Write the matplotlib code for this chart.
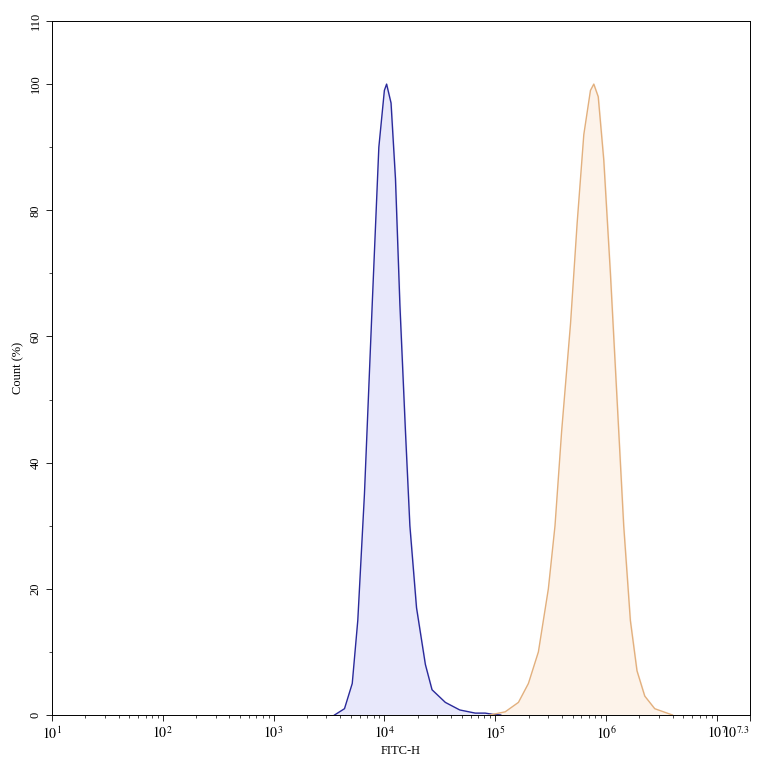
import numpy as np
import matplotlib
matplotlib.use("Agg")
import matplotlib.pyplot as plt

plt.rcParams['font.family'] = ['Liberation Serif', 'DejaVu Serif']
plt.rcParams['mathtext.fontset'] = 'stix'

# histogram outlines (log10 of FITC-H, count %)
blue_log = [3.55, 3.64, 3.71, 3.76, 3.82, 3.89, 3.95, 4.00, 4.02, 4.06, 4.10, 4.14,
            4.19, 4.23, 4.29, 4.37, 4.43, 4.55, 4.68, 4.82, 4.91, 4.98, 5.05]
blue_cnt = [0, 1, 5, 15, 35, 65, 90, 99, 100, 97, 85, 65,
            45, 30, 17, 8, 4, 2, 0.8, 0.3, 0.3, 0.1, 0]
orange_log = [4.95, 5.09, 5.21, 5.30, 5.39, 5.48, 5.54, 5.60, 5.68, 5.74, 5.80, 5.86,
              5.89, 5.93, 5.98, 6.04, 6.10, 6.16, 6.22, 6.28, 6.35, 6.44, 6.60]
orange_cnt = [0, 0.5, 2, 5, 10, 20, 30, 45, 62, 78, 92, 99,
              100, 98, 88, 70, 50, 30, 15, 7, 3, 1, 0]

xtick_exp = [1, 2, 3, 4, 5, 6, 7, 7.3]
xtick_lbl = ['$10^{1}$', '$10^{2}$', '$10^{3}$', '$10^{4}$', '$10^{5}$', '$10^{6}$', '$10^{7}$', '$10^{7.3}$']
yticks = [0, 20, 40, 60, 80, 100, 110]

fig = plt.figure(figsize=(7.64, 7.64), dpi=100)
ax = fig.add_axes([52/764, 49/764, 698/764, 694/764])

bx = 10 ** np.array(blue_log)
ox = 10 ** np.array(orange_log)
ax.fill_between(bx, blue_cnt, color='#e8e8fb')
ax.plot(bx, blue_cnt, color='#2a2a9a', lw=1)
ax.fill_between(ox, orange_cnt, color='#fdf3ea')
ax.plot(ox, orange_cnt, color='#e2b07e', lw=1)

ax.set_xscale('log')
ax.set_xlim(10, 10 ** 7.3)
ax.set_ylim(0, 110)
ax.set_xticks([10 ** e for e in xtick_exp])
ax.set_xticklabels(xtick_lbl, fontsize=10)
ax.set_yticks(yticks)
ax.set_yticklabels([str(v) for v in yticks], rotation=90, va='center', fontsize=9)
ax.yaxis.set_minor_locator(matplotlib.ticker.MultipleLocator(10))
ax.tick_params(direction='out', length=4, width=0.6)
ax.tick_params(which='minor', length=2, width=0.5)
ax.get_xticklabels()[-1].set_horizontalalignment('right')
ax.set_xlabel('FITC-H', fontsize=9, labelpad=2)
ax.set_ylabel('Count (%)', fontsize=9)
for s in ax.spines.values():
    s.set_linewidth(0.7)

fig.savefig('out.png', dpi=100)
